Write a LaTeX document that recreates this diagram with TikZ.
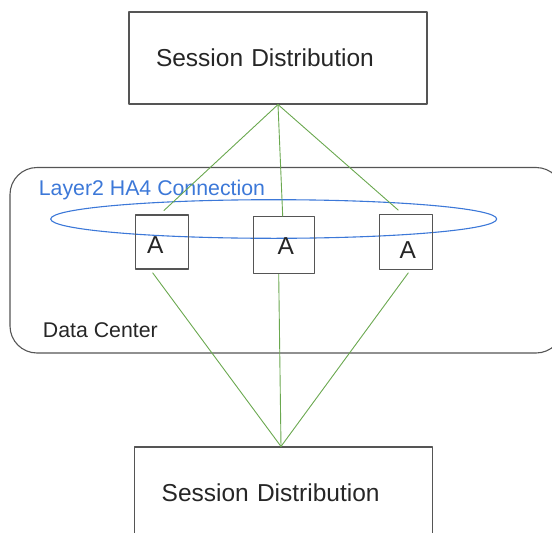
\documentclass[tikz,border=0pt]{standalone}
\usepackage{fontspec}
\setmainfont{Liberation Sans}
\usetikzlibrary{positioning}
\definecolor{linkgreen}{HTML}{6AA84F}
\definecolor{hablue}{HTML}{3C78D8}
\definecolor{edgegray}{HTML}{555555}
\begin{document}
\begin{tikzpicture}[x=1pt, y=-1pt, line join=round, line cap=round,
	sdbox/.style={draw=edgegray, line width=1.1pt, text width=244pt, inner xsep=27pt, inner ysep=0pt, align=left, minimum height=92pt, font=\fontsize{24.5}{29}\selectfont, text=black!85},
	abox/.style={draw=edgegray, line width=1.1pt, inner sep=0pt},
	atext/.style={font=\fontsize{24.5}{29}\selectfont, text=black!85},
	link/.style={draw=linkgreen, line width=0.9pt}]
	\clip (0,0) rectangle (552,533);
	% data center
	\draw[edgegray, line width=1.1pt, rounded corners=27pt] (10,167.5) rectangle (563,353);
	\node[anchor=base west, inner sep=0pt, text=black!85, font=\fontsize{21.3}{25}\selectfont] (dc) at (42.7,337) {Data Center};
	% layer2 connection
	\draw[hablue, line width=1.1pt] (273.7,219) ellipse [x radius=223, y radius=19.3];
	\node[anchor=base west, inner sep=0pt, text=hablue, font=\fontsize{21.3}{25}\selectfont] (ha) at (38.7,195) {Layer2 HA4 Connection};
	% session distribution
	\node[sdbox] (sdtop) at (278,58) {Session Distribution};
	\node[sdbox] (sdbot) at (283.7,493) {Session Distribution};
	% A boxes
	\node[abox, minimum width=53.3pt, minimum height=54pt, label={[atext, xshift=-6.4pt, yshift=-3.5pt]center:A}] (a1) at (161.7,242) {};
	\node[abox, minimum width=60.7pt, minimum height=57pt, label={[atext, xshift=2.1pt, yshift=-0.6pt]center:A}] (a2) at (283.7,245.2) {};
	\node[abox, minimum width=53.3pt, minimum height=55.4pt, label={[atext, xshift=2pt, yshift=-7.7pt]center:A}] (a3) at (405.7,242) {};
	% links
	\draw[link] (sdtop.south) -- ([xshift=2.3pt, yshift=4pt]a1.north);
	\draw[link] (sdtop.south) -- ([xshift=-1pt]a2.north);
	\draw[link] (sdtop.south) -- ([xshift=-7.4pt, yshift=3.6pt]a3.north);
	\draw[link] ([xshift=-9pt, yshift=-3.3pt]a1.south) -- ([xshift=-2.7pt]sdbot.north);
	\draw[link] ([xshift=-5pt]a2.south) -- ([xshift=-2.7pt]sdbot.north);
	\draw[link] ([xshift=2.6pt, yshift=-2.6pt]a3.south) -- ([xshift=-2.7pt]sdbot.north);
\end{tikzpicture}
\end{document}
